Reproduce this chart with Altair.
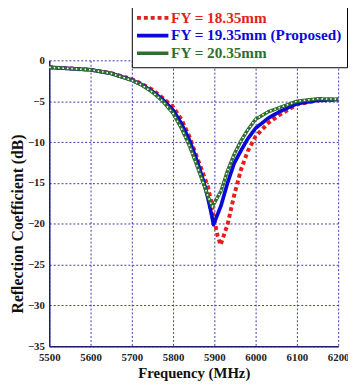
import altair as alt
import pandas as pd

series_names = ["FY = 18.35mm", "FY = 19.35mm (Proposed)", "FY = 20.35mm"]

red_f = [5500, 5550, 5600, 5650, 5700, 5725, 5750, 5775, 5800, 5820, 5840, 5850, 5865, 5884, 5893, 5900, 5908, 5915,
         5932, 5948, 5965, 5981, 6000, 6030, 6057, 6100, 6150, 6200]
red_v = [-0.85, -1.0, -1.15, -1.55, -2.3, -2.9, -3.6, -4.6, -5.7, -7.2, -9.4, -10.8, -12.8, -15.4, -17.4, -19.6, -21.5, -22.6,
         -20.1, -16.5, -13.3, -11.1, -9.3, -7.7, -6.7, -5.4, -4.9, -4.8]

blue_f = [5500, 5550, 5600, 5650, 5700, 5725, 5750, 5775, 5800, 5820, 5840, 5860, 5875, 5885, 5892, 5898,
          5916, 5932, 5948, 5965, 5981, 6000, 6030, 6057, 6100, 6150, 6200]
blue_v = [-0.85, -1.0, -1.15, -1.6, -2.4, -3.0, -3.8, -4.8, -6.1, -7.7, -9.8, -12.6, -15.0, -17.0, -18.6, -20.1,
          -17.8, -15.0, -12.6, -11.0, -9.6, -8.3, -7.1, -6.3, -5.3, -4.9, -4.8]

green_f = [5500, 5550, 5600, 5650, 5700, 5725, 5750, 5775, 5800, 5820, 5840, 5860, 5875, 5885, 5895,
           5905, 5916, 5932, 5948, 5965, 5981, 6000, 6030, 6057, 6100, 6150, 6200]
green_v = [-0.85, -1.0, -1.15, -1.6, -2.45, -3.05, -3.9, -5.0, -6.5, -8.3, -10.5, -13.2, -15.3, -16.7, -17.9,
           -17.0, -16.0, -13.5, -11.5, -9.8, -8.5, -7.2, -6.3, -5.8, -5.0, -4.7, -4.75]

x_ticks = [5500, 5600, 5700, 5800, 5900, 6000, 6100, 6200]
y_ticks = [0, -5, -10, -15, -20, -25, -30, -35]

rows = []
for name, fs, vs in [(series_names[0], red_f, red_v), (series_names[1], blue_f, blue_v), (series_names[2], green_f, green_v)]:
    for f, v in zip(fs, vs):
        rows.append({"freq": f, "rc": v, "series": name})
df = pd.DataFrame(rows)

colors = ["#e31e1e", "#0a0ad8", "#2f6e2f"]
serif = "Liberation Serif"
grid_col = "#3a3aa8"
axis_col = "#1c1c7a"

label_color_expr = (
    f"datum.value == '{series_names[0]}' ? '{colors[0]}' : "
    f"(datum.value == '{series_names[1]}' ? '{colors[1]}' : '{colors[2]}')"
)

x_enc = alt.X("freq:Q", scale=alt.Scale(domain=[5500, 6200], nice=False),
              axis=alt.Axis(values=x_ticks, title="Frequency (MHz)", format="d", labelFlush=False))
y_enc = alt.Y("rc:Q", scale=alt.Scale(domain=[-35, 0], nice=False),
              axis=alt.Axis(values=y_ticks, title="Reflection Coefficient (dB)", format="d",
                            labelFlush=False, titleY=166, titleFontSize=16))

lines = alt.Chart(df).mark_line(strokeCap="butt", strokeJoin="round").encode(
    x=x_enc,
    y=y_enc,
    color=alt.Color("series:N", scale=alt.Scale(domain=series_names, range=colors),
                    legend=alt.Legend(
                        title=None, orient="none", legendX=84, legendY=-56,
                        fillColor="white", strokeColor="black", padding=5,
                        symbolType="M-3.2,0H3.2", symbolSize=100, symbolOffset=8.5,
                        labelFont=serif, labelFontSize=15.5, labelFontWeight="bold", labelOffset=11,
                        rowPadding=1, labelLimit=300,
                        labelColor=alt.ExprRef(label_color_expr),
                    )),
    strokeDash=alt.StrokeDash("series:N", scale=alt.Scale(domain=series_names, range=[[4, 3], [1, 0], [1, 0]]),
                              legend=alt.Legend(title=None)),
    strokeWidth=alt.StrokeWidth("series:N", scale=alt.Scale(domain=series_names, range=[4, 3.5, 6]),
                                legend=alt.Legend(title=None)),
)

dots = alt.Chart(df).transform_filter(alt.datum.series == series_names[2]).mark_line(
    color="white", strokeWidth=1.6, strokeDash=[1.5, 3], strokeCap="butt"
).encode(x=x_enc, y=y_enc)

chart = alt.layer(lines, dots).properties(
    width=294, height=291,
    autosize="none",
    padding={"left": 42, "top": 50, "right": 10, "bottom": 32},
).configure_view(stroke=None).configure_axis(
    labelFont=serif, labelFontWeight="bold", labelFontSize=11, labelColor="#222222",
    titleFont=serif, titleFontWeight="bold", titleFontSize=15, titleColor="#111111",
    gridColor=grid_col, gridDash=[2, 2], gridWidth=1, gridOpacity=1,
    domainColor=axis_col, domainWidth=1.5, tickSize=0,
).configure_axisX(labelPadding=5, titlePadding=4).configure_axisY(labelPadding=5, titlePadding=2)

chart.save("out.html", embed_options={"renderer": "svg", "actions": False})
